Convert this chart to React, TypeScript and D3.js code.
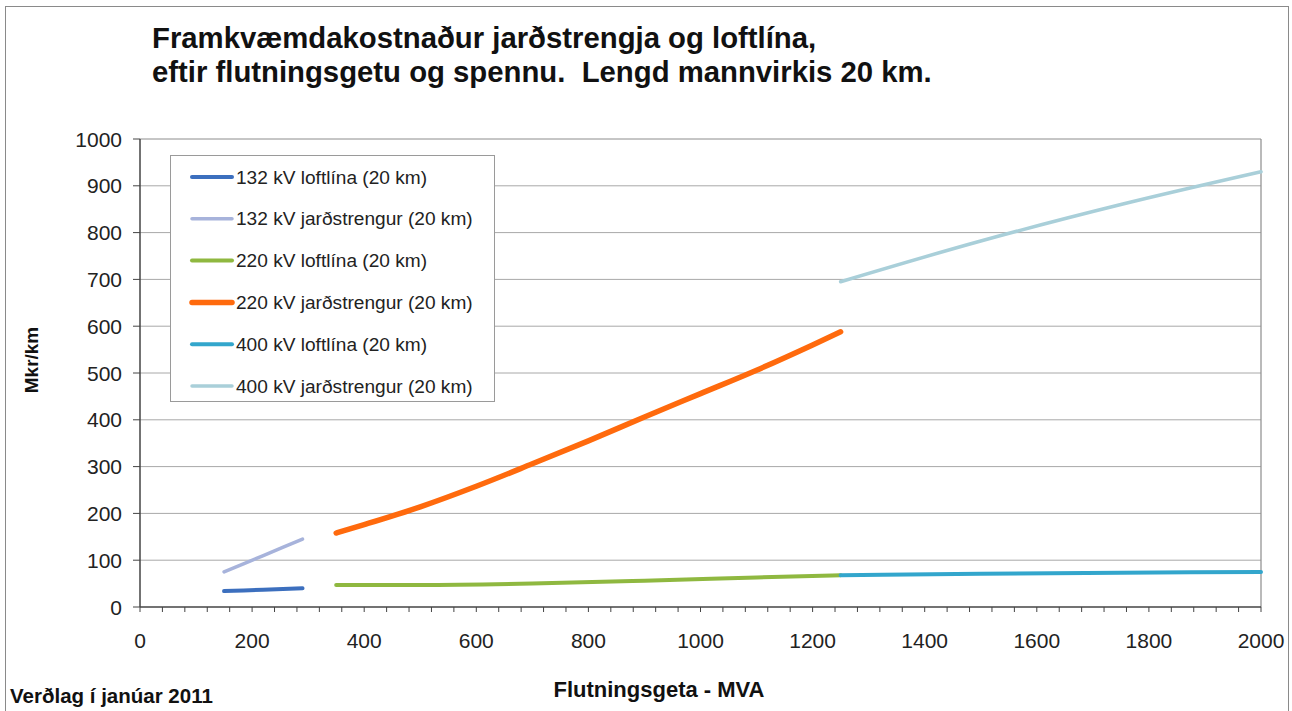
import React from "react";
import * as d3 from "d3";

type Pt = [number, number];

const seriesNames = [
  "132 kV loftlína (20 km)",
  "132 kV jarðstrengur (20 km)",
  "220 kV loftlína (20 km)",
  "220 kV jarðstrengur (20 km)",
  "400 kV loftlína (20 km)",
  "400 kV jarðstrengur (20 km)",
];

const line132Loft: Pt[] = [[150, 34], [220, 37], [290, 40]];
const line132Jord: Pt[] = [[150, 75], [220, 110], [290, 145]];
const line220Loft: Pt[] = [[350, 47], [500, 47], [700, 50], [900, 56], [1100, 63], [1250, 68]];
const line220Jord: Pt[] = [[350, 158], [400, 176], [500, 214], [600, 258], [700, 306], [800, 355], [900, 406], [1000, 456], [1100, 506], [1200, 560], [1250, 588]];
const line400Loft: Pt[] = [[1250, 68], [1500, 71], [1750, 73], [2000, 75]];
const line400Jord: Pt[] = [[1250, 695], [1500, 782], [1750, 860], [2000, 930]];

const seriesData: Pt[][] = [line132Loft, line132Jord, line220Loft, line220Jord, line400Loft, line400Jord];
const seriesColors = ["#3c6fbe", "#a7b3db", "#8fb840", "#ff6a0d", "#33a6cc", "#a9cfd9"];
const seriesWidths = [4, 3.5, 4, 5.5, 4, 3.5];

const xTicks = [0, 200, 400, 600, 800, 1000, 1200, 1400, 1600, 1800, 2000];
const yTicks = [0, 100, 200, 300, 400, 500, 600, 700, 800, 900, 1000];
const xMinorTicks = d3.range(0, 2001, 40);

const titleLines = [
  "Framkvæmdakostnaður jarðstrengja og loftlína,",
  "eftir flutningsgetu og spennu.  Lengd mannvirkis 20 km.",
];
const yLabel = "Mkr/km";
const xLabel = "Flutningsgeta - MVA";
const footnote = "Verðlag í janúar 2011";

export default function App() {
  const W = 1292, H = 711;
  const left = 140, right = 1261, top = 139, bottom = 607;
  const x = d3.scaleLinear().domain([0, 2000]).range([left, right]);
  const y = d3.scaleLinear().domain([0, 1000]).range([bottom, top]);
  const line = d3.line<Pt>().x(d => x(d[0])).y(d => y(d[1])).curve(d3.curveMonotoneX);
  const font = "'Liberation Sans', Arial, sans-serif";

  const legX = 170, legY = 155, legW = 324, legH = 246;
  const rowY0 = 177, rowStep = 41.8;

  return (
    <svg width={W} height={H} style={{ position: "absolute", left: 0, top: 0, background: "#fff" }} fontFamily={font}>
      <rect x={5.5} y={6.5} width={1283} height={720} fill="#fff" stroke="#8a8a8a" strokeWidth={1} />
      {titleLines.map((t, i) => (
        <text key={i} x={152} y={48 + i * 34} fontSize={29.3} fontWeight="bold" fill="#111" style={{ whiteSpace: "pre" }}>{t}</text>
      ))}
      {/* gridlines */}
      {yTicks.filter(v => v > 0).map(v => (
        <line key={v} x1={left} x2={right} y1={y(v)} y2={y(v)} stroke={v === 1000 ? "#8c8c8c" : "#a8a8a8"} strokeWidth={1} />
      ))}
      <line x1={right} x2={right} y1={top} y2={bottom} stroke="#8c8c8c" strokeWidth={1.2} />
      {/* axes */}
      <line x1={left} x2={left} y1={top} y2={bottom} stroke="#444" strokeWidth={1.5} />
      <line x1={left} x2={right} y1={bottom} y2={bottom} stroke="#444" strokeWidth={1.5} />
      {yTicks.map(v => (
        <g key={v}>
          <line x1={left - 7} x2={left} y1={y(v)} y2={y(v)} stroke="#444" strokeWidth={1} />
          <text x={122} y={y(v) + 7.5} fontSize={21} textAnchor="end" fill="#222">{v}</text>
        </g>
      ))}
      {xMinorTicks.map(v => (
        <line key={v} x1={x(v)} x2={x(v)} y1={bottom} y2={bottom + 5} stroke="#444" strokeWidth={1} />
      ))}
      {xTicks.map(v => (
        <text key={v} x={x(v)} y={648} fontSize={21} textAnchor="middle" fill="#222">{v}</text>
      ))}
      {/* series */}
      {seriesData.map((d, i) => (
        <path key={i} d={line(d) || ""} fill="none" stroke={seriesColors[i]} strokeWidth={seriesWidths[i]} strokeLinecap="round" />
      ))}
      {/* legend */}
      <rect x={legX + 0.5} y={legY + 0.5} width={legW} height={legH} fill="#fff" stroke="#9a9a9a" strokeWidth={1} />
      {seriesNames.map((n, i) => (
        <g key={n}>
          <line x1={192} x2={232} y1={rowY0 + i * rowStep} y2={rowY0 + i * rowStep} stroke={seriesColors[i]} strokeWidth={seriesWidths[i]} strokeLinecap="round" />
          <text x={236} y={rowY0 + i * rowStep + 6.5} fontSize={19.1} fill="#222">{n}</text>
        </g>
      ))}
      <text transform="translate(38,360) rotate(-90)" textAnchor="middle" fontSize={19} fontWeight="bold" fill="#111">{yLabel}</text>
      <text x={659} y={697} textAnchor="middle" fontSize={22} fontWeight="bold" fill="#111">{xLabel}</text>
      <text x={10} y={703} fontSize={20.5} fontWeight="bold" fill="#111">{footnote}</text>
    </svg>
  );
}
